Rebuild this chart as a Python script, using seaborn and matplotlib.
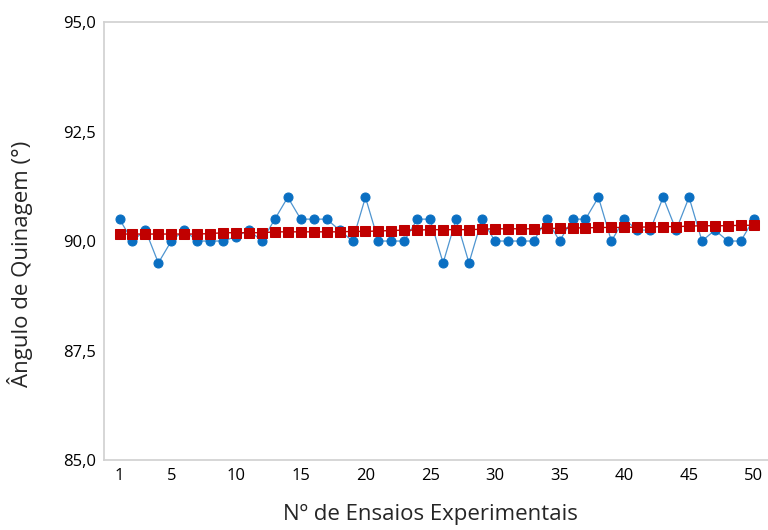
import numpy as np
import pandas as pd
import matplotlib
matplotlib.use("Agg")
import matplotlib.pyplot as plt
from matplotlib.ticker import FuncFormatter
import seaborn as sns

# trial numbers 1..50
ensaios = list(range(1, 51))

# measured bend angle (blue)
angulo = [90.5, 90.0, 90.25, 89.5, 90.0, 90.25, 90.0, 90.0, 90.0, 90.1,
          90.25, 90.0, 90.5, 91.0, 90.5, 90.5, 90.5, 90.25, 90.0, 91.0,
          90.0, 90.0, 90.0, 90.5, 90.5, 89.5, 90.5, 89.5, 90.5, 90.0,
          90.0, 90.0, 90.0, 90.5, 90.0, 90.5, 90.5, 91.0, 90.0, 90.5,
          90.25, 90.25, 91.0, 90.25, 91.0, 90.0, 90.25, 90.0, 90.0, 90.5]

# trend line (red)
tendencia = [90.16, 90.16, 90.16, 90.16, 90.16, 90.16, 90.16, 90.17, 90.19, 90.19,
             90.19, 90.19, 90.21, 90.21, 90.21, 90.21, 90.21, 90.21, 90.22, 90.22,
             90.23, 90.24, 90.25, 90.25, 90.26, 90.26, 90.26, 90.26, 90.27, 90.28,
             90.28, 90.28, 90.28, 90.29, 90.29, 90.30, 90.30, 90.31, 90.31, 90.31,
             90.32, 90.32, 90.33, 90.33, 90.34, 90.35, 90.35, 90.35, 90.36, 90.36]

x_ticks = [1, 5, 10, 15, 20, 25, 30, 35, 40, 45, 50]
y_ticks = [85.0, 87.5, 90.0, 92.5, 95.0]

df = pd.DataFrame({"ensaio": ensaios, "angulo": angulo, "tendencia": tendencia})

sns.set_style("white")
plt.rcParams["font.family"] = ["Open Sans", "DejaVu Sans"]

fig = plt.figure(figsize=(7.68, 5.30), dpi=100)
ax = fig.add_axes([0.1354, 0.132, 0.8646, 0.8264])

sns.lineplot(data=df, x="ensaio", y="angulo", ax=ax, color="#4f95d0", linewidth=0.9,
             marker="o", markersize=6.5, markerfacecolor="#0a6fc2",
             markeredgecolor="#0a6fc2", zorder=2)
sns.lineplot(data=df, x="ensaio", y="tendencia", ax=ax, color="#c00000", linewidth=1.0,
             marker="s", markersize=7.5, markerfacecolor="#c00000",
             markeredgecolor="#c00000", zorder=3)

ax.set_xlim(-0.2, 51.1)
ax.set_ylim(85.0, 95.0)
ax.set_xticks(x_ticks)
ax.set_yticks(y_ticks)
ax.yaxis.set_major_formatter(FuncFormatter(lambda v, p: f"{v:.1f}".replace(".", ",")))

for side in ["left", "bottom", "top"]:
    ax.spines[side].set_visible(True)
    ax.spines[side].set_color("#d0d0d0")
    ax.spines[side].set_linewidth(1.2)
ax.spines["right"].set_visible(False)

ax.tick_params(axis="both", direction="out", length=5, width=1, color="#c8c8c8",
               labelsize=12, labelcolor="black")
ax.tick_params(axis="x", pad=1)
ax.tick_params(axis="y", pad=1)

ax.set_xlabel("Nº de Ensaios Experimentais", fontsize=16)
ax.xaxis.set_label_coords(0.491, -0.1)
ax.set_ylabel("Ângulo de Quinagem (°)", fontsize=16)
ax.yaxis.set_label_coords(-0.107, 0.447)

fig.savefig("out.png", dpi=100)
